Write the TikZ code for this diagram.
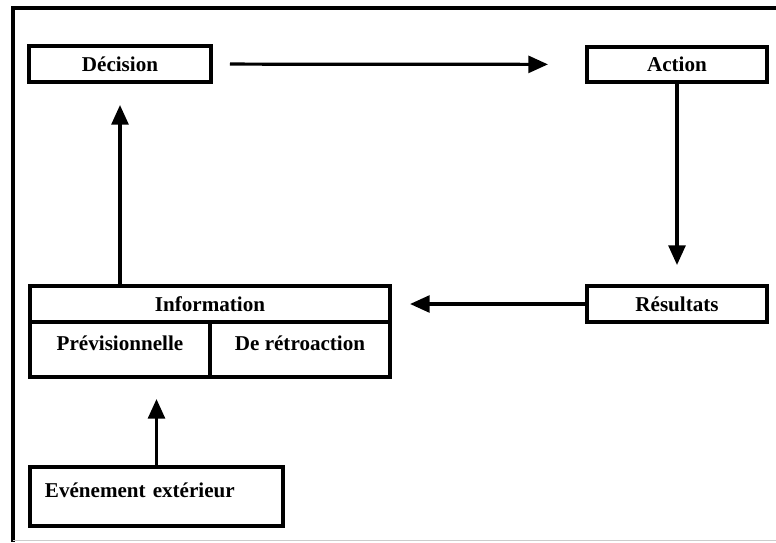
\documentclass[tikz,border=0pt]{standalone}
\usepackage{fontspec}
\setmainfont{Liberation Serif}
\usetikzlibrary{arrows.meta}
\begin{document}
\begin{tikzpicture}[x=0.025cm, y=-0.025cm,
  box/.style={rectangle, draw, line width=2.8pt, inner sep=0pt,
    font=\fontsize{15}{17}\selectfont\bfseries},
  flow/.style={line width=2.3pt, -{Triangle[length=14pt, width=12pt]}}]
\useasboundingbox (0,0) rectangle (776,542) ;
\draw[line width=2.6pt] (776,8) -- (13,8) -- (13,542) ;
\draw[gray!40, line width=0.7pt] (13,540) -- (776,540) ;
\draw (120,64) node[box, minimum width=4.55cm, minimum height=0.9cm](dec) {Décision} ;
\draw (677,64.5) node[box, minimum width=4.5cm, minimum height=0.875cm](act) {Action} ;
\draw (677,304) node[box, minimum width=4.5cm, minimum height=0.9cm](res) {Résultats} ;
\draw (210,304) node[box, minimum width=9cm, minimum height=0.9cm](info) {Information} ;
  \draw (120,349.5) node[box, minimum width=4.5cm, minimum height=1.375cm, text depth=9pt](prev) {Prévisionnelle} ;
  \draw (300,349.5) node[box, minimum width=4.5cm, minimum height=1.375cm, text depth=9pt](retro) {De rétroaction} ;
\draw (156.5,496.5) node[box, minimum width=6.325cm, minimum height=1.475cm, text width=5.575cm, text depth=9pt](evt) {Evénement extérieur} ;
\draw[flow, shorten <=0.425cm, shorten >=0.925cm] (dec) -- (act) ;
\draw[flow, shorten >=0.475cm] (act) -- (res) ;
\draw[flow, shorten >=0.45cm] (res) -- (info) ;
\draw[flow, shorten >=0.525cm] (dec |- info.north) -- (dec.south) ;
\draw[flow, shorten >=0.5cm] (evt.north) -- (evt.north |- prev.south) ;
\end{tikzpicture}
\end{document}
